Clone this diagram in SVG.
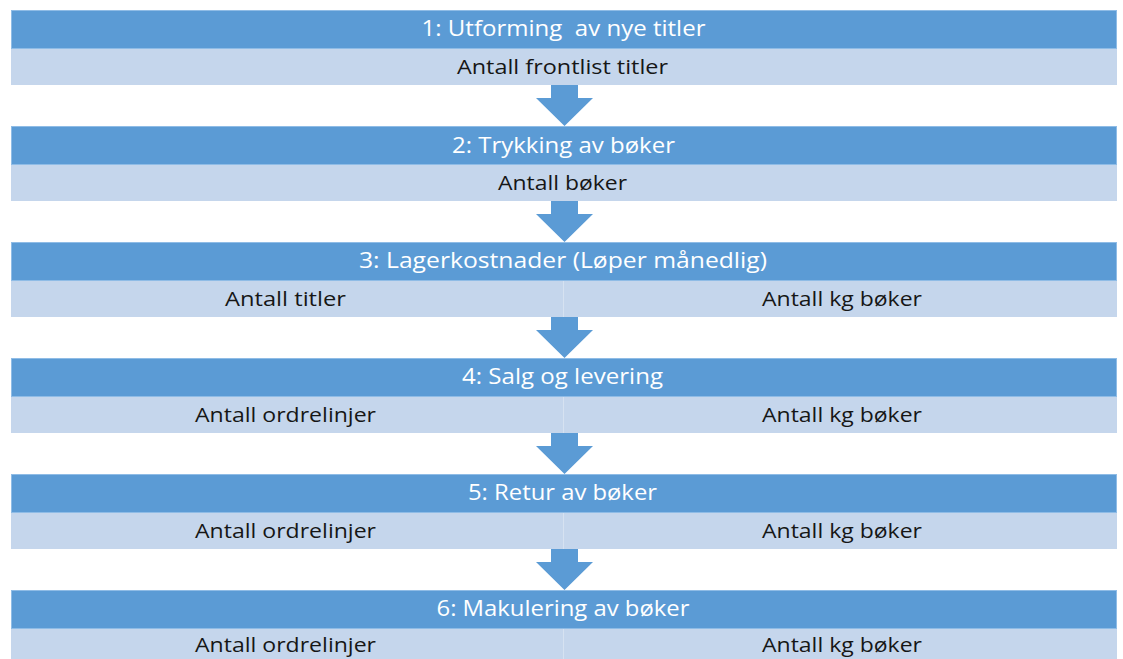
<svg xmlns="http://www.w3.org/2000/svg" width="1123" height="659" viewBox="0 0 1123 659">
<style>
.hdr{fill:#5B9BD5;stroke:#8FBCE6;stroke-width:1}
.sub{fill:#C5D6EC}
.div{stroke:#D6E2F1;stroke-width:1}
.ht{font-family:"Open Sans",Lato,sans-serif;font-size:22px;fill:#FFFFFF;text-anchor:middle;white-space:pre}
.st{font-family:"Open Sans",Lato,sans-serif;font-size:19.5px;fill:#161616;text-anchor:middle;white-space:pre}
.arr{fill:#5B9BD5}
</style>
<rect width="1123" height="659" fill="#FFFFFF"/>
<g id="connectors">
<polygon class="arr" points="551,85 578,85 578,98 593,98 564.5,126 536,98 551,98"/>
<polygon class="arr" points="551,201 578,201 578,214 593,214 564.5,242 536,214 551,214"/>
<polygon class="arr" points="551,317 578,317 578,330 593,330 564.5,358 536,330 551,330"/>
<polygon class="arr" points="551,433 578,433 578,446 593,446 564.5,474 536,446 551,446"/>
<polygon class="arr" points="551,549 578,549 578,562 593,562 564.5,590 536,562 551,562"/>
</g>
<g id="step1">
<rect class="hdr" x="11.5" y="10.5" width="1105" height="38"/>
<rect class="sub" x="11" y="49" width="1106" height="36"/>
<text class="ht" x="563.5" y="36" textLength="284" lengthAdjust="spacingAndGlyphs">1: Utforming  av nye titler</text>
<text class="st" x="562.5" y="73.5" textLength="211" lengthAdjust="spacingAndGlyphs">Antall frontlist titler</text>
</g>
<g id="step2">
<rect class="hdr" x="11.5" y="126.5" width="1105" height="38"/>
<rect class="sub" x="11" y="165" width="1106" height="36"/>
<text class="ht" x="563.5" y="152.5" textLength="223" lengthAdjust="spacingAndGlyphs">2: Trykking av bøker</text>
<text class="st" x="562.5" y="189.5" textLength="129" lengthAdjust="spacingAndGlyphs">Antall bøker</text>
</g>
<g id="step3">
<rect class="hdr" x="11.5" y="242.5" width="1105" height="38"/>
<rect class="sub" x="11" y="281" width="1106" height="36"/>
<line class="div" x1="563.5" y1="281" x2="563.5" y2="317"/>
<text class="ht" x="563" y="268" textLength="408" lengthAdjust="spacingAndGlyphs">3: Lagerkostnader (Løper månedlig)</text>
<text class="st" x="285.5" y="305.5" textLength="121" lengthAdjust="spacingAndGlyphs">Antall titler</text>
<text class="st" x="842" y="305.5" textLength="160" lengthAdjust="spacingAndGlyphs">Antall kg bøker</text>
</g>
<g id="step4">
<rect class="hdr" x="11.5" y="358.5" width="1105" height="38"/>
<rect class="sub" x="11" y="397" width="1106" height="36"/>
<line class="div" x1="563.5" y1="397" x2="563.5" y2="433"/>
<text class="ht" x="562.5" y="384" textLength="201" lengthAdjust="spacingAndGlyphs">4: Salg og levering</text>
<text class="st" x="285.5" y="421.5" textLength="181" lengthAdjust="spacingAndGlyphs">Antall ordrelinjer</text>
<text class="st" x="842" y="421.5" textLength="160" lengthAdjust="spacingAndGlyphs">Antall kg bøker</text>
</g>
<g id="step5">
<rect class="hdr" x="11.5" y="474.5" width="1105" height="38"/>
<rect class="sub" x="11" y="513" width="1106" height="36"/>
<line class="div" x1="563.5" y1="513" x2="563.5" y2="549"/>
<text class="ht" x="562.5" y="500" textLength="189" lengthAdjust="spacingAndGlyphs">5: Retur av bøker</text>
<text class="st" x="285.5" y="537.5" textLength="181" lengthAdjust="spacingAndGlyphs">Antall ordrelinjer</text>
<text class="st" x="842" y="537.5" textLength="160" lengthAdjust="spacingAndGlyphs">Antall kg bøker</text>
</g>
<g id="step6">
<rect class="hdr" x="11.5" y="590.5" width="1105" height="38"/>
<rect class="sub" x="11" y="629" width="1106" height="36"/>
<line class="div" x1="563.5" y1="629" x2="563.5" y2="665"/>
<text class="ht" x="563" y="616" textLength="253" lengthAdjust="spacingAndGlyphs">6: Makulering av bøker</text>
<text class="st" x="285.5" y="651.5" textLength="181" lengthAdjust="spacingAndGlyphs">Antall ordrelinjer</text>
<text class="st" x="842" y="651.5" textLength="160" lengthAdjust="spacingAndGlyphs">Antall kg bøker</text>
</g>
</svg>
